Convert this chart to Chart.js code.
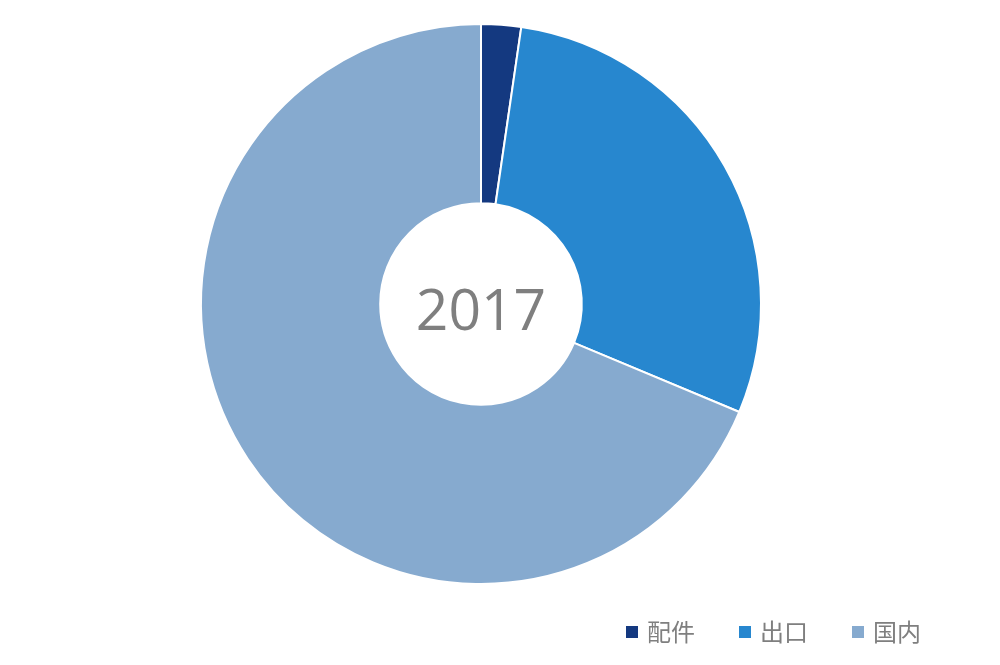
<!DOCTYPE html>
<html lang="zh">
<head>
  <meta charset="UTF-8">
  <title>2017</title>
  <script src="https://cdn.jsdelivr.net/npm/chart.js"></script>
  <style>
    html, body { margin: 0; padding: 0; background: #fff; }
    canvas { display: block; }
  </style>
</head>
<body>
  <canvas id="pieChart" width="1000" height="665"></canvas>

  <script>
    const categories = ['配件', '出口', '国内'];
    const shares = [2.3, 29.0, 68.7];
    const colors = ['#143980', '#2787CF', '#86AACF'];
    const centerLabel = '2017';

    // year in the hole
    const centerText = {
      id: 'centerText',
      afterDraw(chart) {
        const meta = chart.getDatasetMeta(0).data[0];
        const ctx = chart.ctx;
        ctx.save();
        ctx.font = '57px "Open Sans", sans-serif';
        ctx.fillStyle = '#7f7f7f';
        ctx.textAlign = 'center';
        ctx.textBaseline = 'alphabetic';
        ctx.fillText(centerLabel, meta.x, meta.y + 26);
        ctx.restore();
      }
    };

    // legend bottom right, wider gaps than the built-in one allows
    const bottomLegend = {
      id: 'bottomLegend',
      afterDraw(chart) {
        const ctx = chart.ctx;
        const ds = chart.data.datasets[0];
        const box = 12, gap = 9, spacing = 44;
        const right = 921, cy = 632;
        ctx.save();
        ctx.font = '24px "Noto Sans CJK SC", sans-serif';
        const widths = chart.data.labels.map(l => box + gap + ctx.measureText(l).width);
        const total = widths.reduce((a, b) => a + b, 0) + spacing * (widths.length - 1);
        let x = right - total;
        chart.data.labels.forEach((label, i) => {
          ctx.fillStyle = ds.backgroundColor[i];
          ctx.fillRect(x, cy - box / 2, box, box);
          ctx.fillStyle = '#7f7f7f';
          ctx.textBaseline = 'middle';
          ctx.textAlign = 'left';
          ctx.fillText(label, x + box + gap, cy);
          x += widths[i] + spacing;
        });
        ctx.restore();
      }
    };

    const ctx = document.getElementById('pieChart').getContext('2d');
    new Chart(ctx, {
      type: 'doughnut',
      data: {
        labels: categories,
        datasets: [{
          data: shares,
          backgroundColor: colors,
          borderColor: '#ffffff',
          borderWidth: 2
        }]
      },
      options: {
        responsive: false,
        animation: false,
        cutout: '36%',
        layout: { padding: { top: 23, left: 0, right: 38, bottom: 80 } },
        plugins: {
          legend: { display: false },
          tooltip: { enabled: false }
        }
      },
      plugins: [centerText, bottomLegend]
    });
  </script>
</body>
</html>
